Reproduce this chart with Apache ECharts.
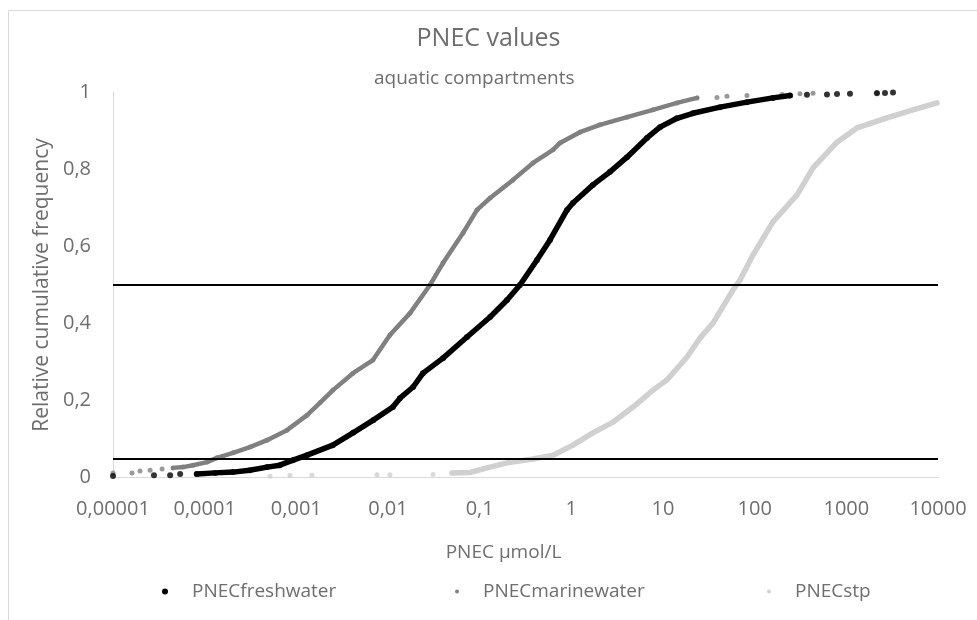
<!DOCTYPE html>
<html>
<head>
<meta charset="utf-8">
<script src="https://cdn.jsdelivr.net/npm/echarts@6/dist/echarts.min.js"></script>
<style>html,body{margin:0;padding:0;background:#fff}#c{width:977px;height:620px}</style>
</head>
<body>
<div id="c"></div>
<script>
// ---- data ----
const seriesNames = ['PNECfreshwater', 'PNECmarinewater', 'PNECstp'];
const xTickLabels = ['0,00001', '0,0001', '0,001', '0,01', '0,1', '1', '10', '100', '1000', '10000'];
const yTickLabels = ['0', '0,2', '0,4', '0,6', '0,8', '1'];
const refLines = [0.5, 0.05];

const freshX = [1.0e-5, 2.8e-5, 4.2e-5, 5.4e-5, 8.2e-5, 1.3e-4, 2.04e-4, 3.1e-4, 4.8e-4, 6.6e-4, 9.2e-4, 1.31e-3, 2.5e-3, 4.15e-3, 6.9e-3, 0.0113, 0.0135, 0.0188, 0.0241, 0.0398, 0.0728, 0.130, 0.199, 0.275, 0.422, 0.585, 0.897, 1.04, 1.72, 2.64, 4.05, 6.68, 9.27, 14.2, 21.2, 41.9, 82.4, 158, 243, 372, 615, 791, 1096, 2158, 2640, 3228];
const freshY = [0.004, 0.006, 0.006, 0.009, 0.009, 0.012, 0.014, 0.019, 0.027, 0.032, 0.045, 0.058, 0.084, 0.116, 0.149, 0.183, 0.206, 0.235, 0.271, 0.310, 0.365, 0.417, 0.461, 0.500, 0.565, 0.617, 0.695, 0.713, 0.760, 0.794, 0.832, 0.882, 0.910, 0.933, 0.946, 0.962, 0.975, 0.986, 0.992, 0.994, 0.995, 0.996, 0.997, 0.998, 0.999, 1.0];

const marineX = [1.0e-5, 1.61e-5, 1.97e-5, 2.54e-5, 3.43e-5, 4.52e-5, 5.81e-5, 7.47e-5, 1.06e-4, 1.36e-4, 2.04e-4, 3.12e-4, 4.79e-4, 7.91e-4, 1.31e-3, 1.81e-3, 2.51e-3, 4.15e-3, 6.85e-3, 0.0105, 0.0174, 0.0287, 0.0398, 0.0658, 0.0936, 0.130, 0.231, 0.382, 0.631, 0.752, 1.24, 2.05, 4.05, 7.78, 14.2, 23.5, 38.8, 49.9, 82.4, 199, 312, 433, 2158];
const marineY = [0.012, 0.012, 0.017, 0.019, 0.022, 0.025, 0.027, 0.032, 0.040, 0.051, 0.064, 0.079, 0.097, 0.123, 0.162, 0.194, 0.227, 0.271, 0.305, 0.370, 0.427, 0.500, 0.557, 0.635, 0.695, 0.726, 0.773, 0.817, 0.851, 0.869, 0.897, 0.916, 0.936, 0.955, 0.973, 0.986, 0.987, 0.990, 0.992, 0.995, 0.997, 0.998, 1.0];

const stpX = [5.16e-4, 8.53e-4, 1.48e-3, 7.59e-3, 0.0105, 0.031, 0.0499, 0.0783, 0.120, 0.199, 0.382, 0.631, 1.04, 1.72, 2.85, 4.71, 7.78, 11.0, 18.3, 25.3, 35.1, 58.0, 69.2, 95.9, 158, 290, 433, 791, 1306, 2773, 5333, 9750];
const stpY = [0.003, 0.006, 0.006, 0.007, 0.007, 0.008, 0.012, 0.013, 0.025, 0.038, 0.048, 0.058, 0.084, 0.116, 0.144, 0.183, 0.227, 0.253, 0.313, 0.362, 0.401, 0.487, 0.513, 0.578, 0.664, 0.734, 0.804, 0.871, 0.908, 0.934, 0.955, 0.973];

// ---- styling ----
const FONT = 'Open Sans';
const TXT = '#6e6e6e';
const styles = [
  { x: freshX, y: freshY, color: '#000000', width: 5.5, sym: 6, dense: [4, 38], legendLeft: 157, icon: 6 },
  { x: marineX, y: marineY, color: '#808080', width: 4.5, sym: 5, dense: [5, 35], legendLeft: 450, icon: 4 },
  { x: stpX, y: stpY, color: '#d0d0d0', width: 5.5, sym: 5, dense: [6, 31], legendLeft: 762, icon: 4 }
];

const series = [];
styles.forEach((s, i) => {
  const pts = s.x.map((v, k) => [v, s.y[k]]);
  series.push({
    name: seriesNames[i], type: 'line', data: pts.slice(s.dense[0], s.dense[1] + 1),
    showSymbol: false, symbol: 'circle', lineStyle: { color: s.color, width: s.width, cap: 'round', join: 'round' },
    itemStyle: { color: s.color }, z: 3 - i, silent: true
  });
  series.push({
    name: seriesNames[i], type: 'scatter', data: pts, symbol: 'circle', symbolSize: s.sym,
    itemStyle: { color: s.color }, z: 3 - i, silent: true
  });
});
series[0].markLine = {
  silent: true, symbol: ['none', 'none'], label: { show: false },
  lineStyle: { color: '#000', width: 2, type: 'solid' },
  data: refLines.map(v => ({ yAxis: v }))
};

const legends = styles.map((s, i) => ({
  data: [{ name: seriesNames[i], icon: 'circle' }],
  left: s.legendLeft, top: 577, itemWidth: s.icon, itemHeight: s.icon,
  textStyle: { fontFamily: FONT, fontSize: 19, color: TXT, padding: [0, 0, 0, 19] },
  selectedMode: false
}));

const option = {
  animation: false,
  textStyle: { fontFamily: FONT },
  title: [
    { text: 'PNEC values', left: 'center', top: 21, textStyle: { fontFamily: FONT, fontSize: 25, fontWeight: 'normal', color: TXT } },
    { text: 'aquatic compartments', left: 369, top: 64, textStyle: { fontFamily: FONT, fontSize: 19, fontWeight: 'normal', color: TXT } }
  ],
  graphic: [{ type: 'rect', shape: { x: 8.5, y: 10.5, width: 1100, height: 800 }, style: { fill: 'none', stroke: '#d9d9d9', lineWidth: 1 }, silent: true }],
  legend: legends,
  grid: { left: 113, right: 39, top: 92.5, bottom: 142.5 },
  xAxis: {
    type: 'log', logBase: 10, min: 1e-5, max: 1e4,
    name: 'PNEC µmol/L', nameLocation: 'middle', nameGap: 66,
    nameTextStyle: { fontFamily: FONT, fontSize: 19, color: TXT, padding: [0, 44, 0, 0] },
    axisLine: { show: true, lineStyle: { color: '#d9d9d9', width: 1 } },
    axisTick: { show: false }, splitLine: { show: false }, minorTick: { show: false },
    axisLabel: { fontFamily: FONT, fontSize: 20, color: TXT, margin: 22,
      formatter: v => xTickLabels[Math.round(Math.log10(v)) + 5] }
  },
  yAxis: {
    type: 'value', min: 0, max: 1, interval: 0.2,
    name: 'Relative cumulative frequency', nameLocation: 'middle', nameGap: 58,
    nameTextStyle: { fontFamily: FONT, fontSize: 21, color: TXT },
    axisLine: { show: true, lineStyle: { color: '#d9d9d9', width: 1 } },
    axisTick: { show: false }, splitLine: { show: false },
    axisLabel: { fontFamily: FONT, fontSize: 20, color: TXT, margin: 22,
      formatter: v => yTickLabels[Math.round(v * 5)] }
  },
  series: series
};
const chart = echarts.init(document.getElementById('c'), null, { renderer: 'canvas' });
chart.setOption(option);
</script>
</body>
</html>
